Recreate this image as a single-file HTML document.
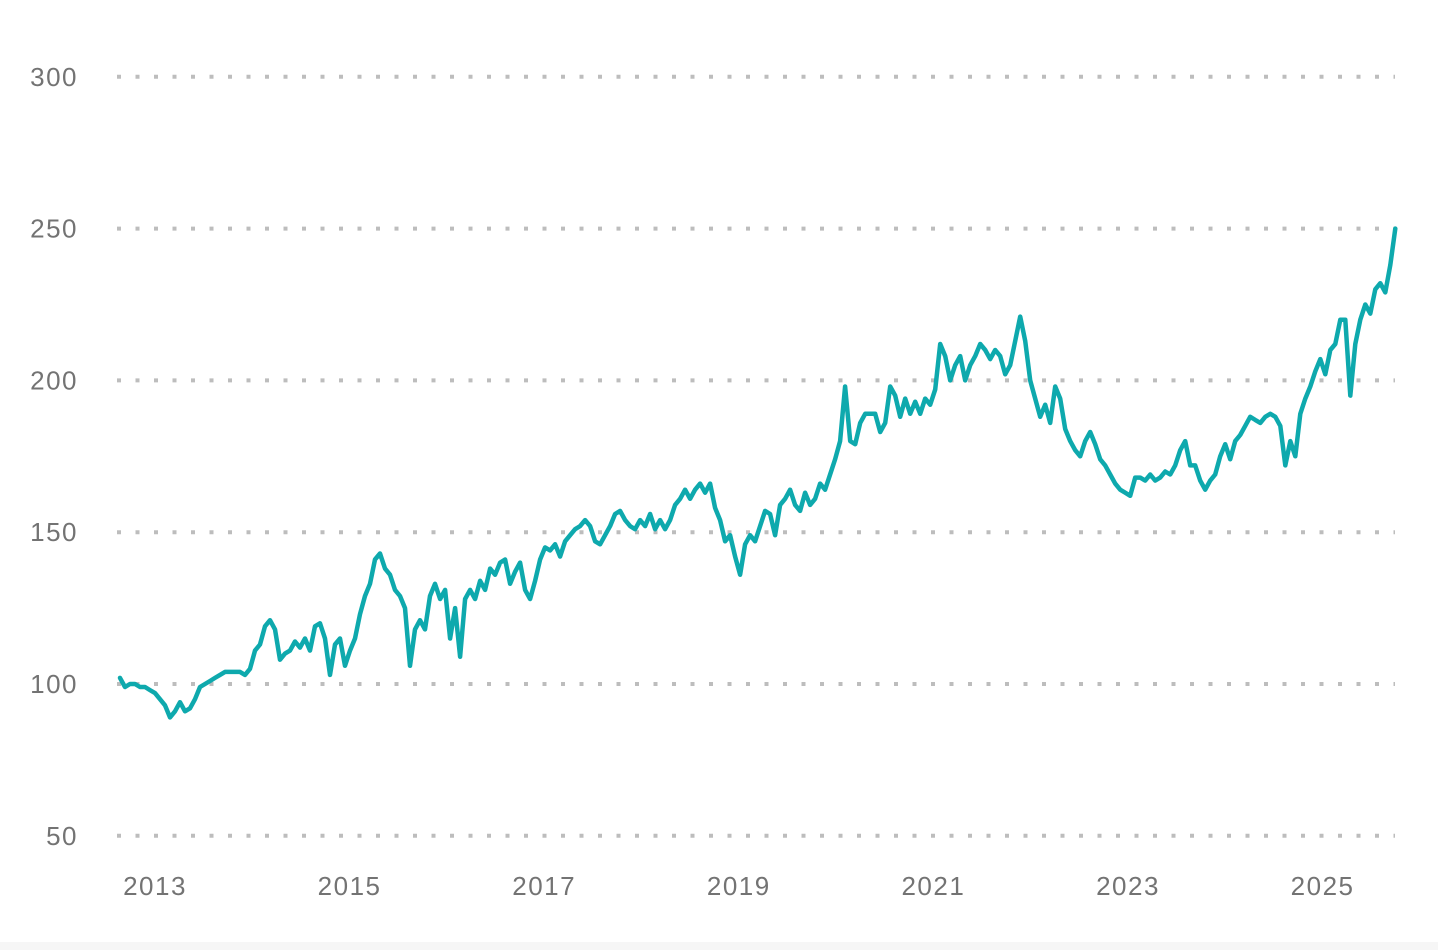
<!DOCTYPE html>
<html><head><meta charset="utf-8"><style>
html,body{margin:0;padding:0;background:#fff;}
body{width:1438px;height:950px;overflow:hidden;position:relative;font-family:"Liberation Sans",sans-serif;}
#strip{position:absolute;left:0;top:942px;width:1438px;height:8px;background:#f6f6f6;}
</style></head><body>
<svg id="chart" width="1438" height="950" style="position:absolute;left:0;top:0"></svg>
<div id="strip"></div>
<script>
const yTicks=[50,100,150,200,250,300];
const xTickYears=[2013,2015,2017,2019,2021,2023,2025];
const startYear=2012.64;
const stepYears=0.0514;
const values=[102,99,100,100,99,99,98,97,95,93,89,91,94,91,92,95,99,100,101,102,103,104,104,104,104,103,105,111,113,119,121,118,108,110,111,114,112,115,111,119,120,115,103,113,115,106,111,115,123,129,133,141,143,138,136,131,129,125,106,118,121,118,129,133,128,131,115,125,109,128,131,128,134,131,138,136,140,141,133,137,140,131,128,134,141,145,144,146,142,147,149,151,152,154,152,147,146,149,152,156,157,154,152,151,154,152,156,151,154,151,154,159,161,164,161,164,166,163,166,158,154,147,149,142,136,146,149,147,152,157,156,149,159,161,164,159,157,163,159,161,166,164,169,174,180,198,180,179,186,189,189,189,183,186,198,195,188,194,189,193,189,194,192,197,212,208,200,205,208,200,205,208,212,210,207,210,208,202,205,213,221,213,200,194,188,192,186,198,194,184,180,177,175,180,183,179,174,172,169,166,164,163,162,168,168,167,169,167,168,170,169,172,177,180,172,172,167,164,167,169,175,179,174,180,182,185,188,187,186,188,189,188,185,172,180,175,189,194,198,203,207,202,210,212,220,220,195,212,220,225,222,230,232,229,238,250];
const NS="http://www.w3.org/2000/svg";
const svg=document.getElementById('chart');
function xScale(yr){return 155+(yr-2013)*97.3;}
function yScale(v){return 684-(v-100)*3.036;}
function mk(t,a){const e=document.createElementNS(NS,t);for(const k in a)e.setAttribute(k,a[k]);svg.appendChild(e);return e;}
yTicks.forEach(v=>{
  const g=mk('line',{x1:117,x2:1395,y1:yScale(v),y2:yScale(v),stroke:'#bdbdbd','stroke-width':4,'stroke-dasharray':'4 14.5'});
  
  
  const t=mk('text',{x:78,y:yScale(v)+9,'text-anchor':'end','font-size':26,'letter-spacing':1.5,fill:'#737373','font-family':'Liberation Sans, sans-serif'});
  t.textContent=v;
  
  
});
xTickYears.forEach(yr=>{
  const t=mk('text',{x:xScale(yr),y:895,'text-anchor':'middle','font-size':26,'letter-spacing':1.5,fill:'#737373','font-family':'Liberation Sans, sans-serif'});
  t.textContent=yr;
  
  
});
const d=values.map((v,i)=>(i?'L':'M')+xScale(startYear+i*stepYears).toFixed(1)+','+yScale(v).toFixed(1)).join('');
const p=mk('path',{d:d,fill:'none',stroke:'#0ea9ad','stroke-width':4.5,'stroke-linejoin':'round','stroke-linecap':'round'});


</script>
</body></html>
